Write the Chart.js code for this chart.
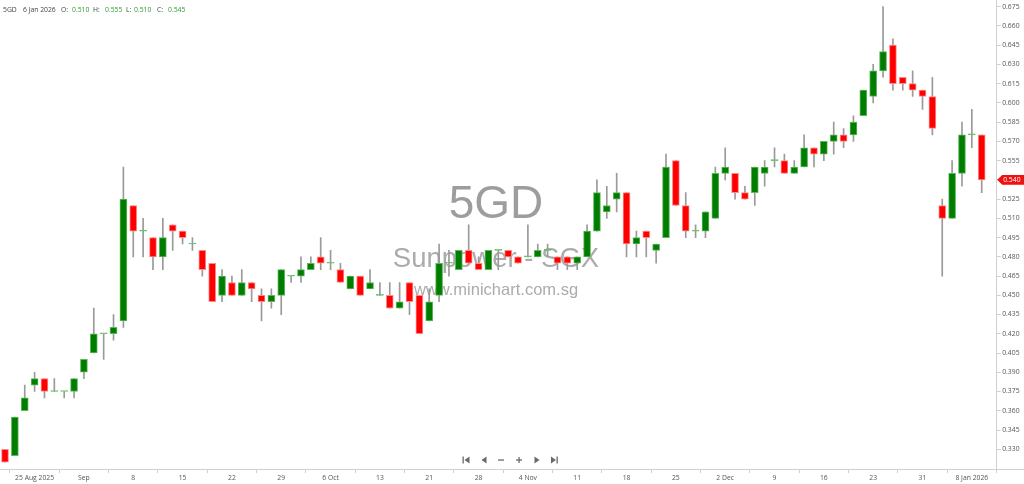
<!DOCTYPE html>
<html>
<head>
<meta charset="utf-8">
<script src="https://cdn.jsdelivr.net/npm/chart.js@4/dist/chart.umd.min.js"></script>
<style>
  html, body { margin: 0; padding: 0; background: #fff; }
  #wrap { position: relative; width: 1024px; height: 484px; }
</style>
</head>
<body>
<div id="wrap"><canvas id="c"></canvas></div>
<script>
// ---- DATA ----
const symbol = '5GD';
const company = 'Sunpower - SGX';
const site = 'www.minichart.com.sg';

const dates = [
  '2025-08-20','2025-08-21','2025-08-22','2025-08-25','2025-08-26','2025-08-27','2025-08-28','2025-08-29',
  '2025-09-01','2025-09-02','2025-09-03','2025-09-04','2025-09-05',
  '2025-09-08','2025-09-09','2025-09-10','2025-09-11','2025-09-12',
  '2025-09-15','2025-09-16','2025-09-17','2025-09-18','2025-09-19',
  '2025-09-22','2025-09-23','2025-09-24','2025-09-25','2025-09-26',
  '2025-09-29','2025-09-30','2025-10-01','2025-10-02','2025-10-03',
  '2025-10-06','2025-10-07','2025-10-08','2025-10-09','2025-10-10',
  '2025-10-13','2025-10-14','2025-10-15','2025-10-16','2025-10-17',
  '2025-10-21','2025-10-22','2025-10-23','2025-10-24',
  '2025-10-27','2025-10-28','2025-10-29','2025-10-30','2025-10-31',
  '2025-11-03','2025-11-04','2025-11-05','2025-11-06','2025-11-07',
  '2025-11-10','2025-11-11','2025-11-12','2025-11-13','2025-11-14',
  '2025-11-17','2025-11-18','2025-11-19','2025-11-20','2025-11-21',
  '2025-11-24','2025-11-25','2025-11-26','2025-11-27','2025-11-28',
  '2025-12-01','2025-12-02','2025-12-03','2025-12-04','2025-12-05',
  '2025-12-08','2025-12-09','2025-12-10','2025-12-11','2025-12-12',
  '2025-12-15','2025-12-16','2025-12-17','2025-12-18','2025-12-19',
  '2025-12-22','2025-12-23','2025-12-24','2025-12-26',
  '2025-12-29','2025-12-30','2025-12-31',
  '2026-01-02','2026-01-05','2026-01-06','2026-01-07','2026-01-08','2026-01-09'
];

const open = [
  0.330,0.325,0.360,0.380,0.385,0.375,0.375,0.375,0.390,0.405,
  0.420,0.420,0.430,0.520,0.500,0.495,0.480,0.505,0.500,0.490,
  0.485,0.475,0.450,0.460,0.450,0.460,0.450,0.445,0.450,0.465,
  0.465,0.470,0.480,0.475,0.470,0.455,0.465,0.455,0.450,0.450,
  0.440,0.460,0.450,0.430,0.450,0.475,0.470,0.485,0.475,0.470,
  0.485,0.485,0.480,0.480,0.480,0.485,0.480,0.480,0.475,0.480,
  0.500,0.515,0.525,0.530,0.490,0.500,0.485,0.495,0.555,0.520,
  0.500,0.500,0.510,0.545,0.545,0.530,0.530,0.545,0.555,0.555,
  0.545,0.550,0.565,0.560,0.570,0.575,0.575,0.590,0.605,0.625,
  0.645,0.620,0.615,0.610,0.605,0.520,0.510,0.545,0.575,0.575
];
const high = [
  0.330,0.355,0.380,0.390,0.385,0.385,0.375,0.385,0.400,0.440,
  0.420,0.435,0.550,0.520,0.510,0.495,0.510,0.505,0.500,0.495,
  0.485,0.475,0.470,0.465,0.470,0.460,0.455,0.455,0.470,0.465,
  0.480,0.480,0.495,0.485,0.475,0.465,0.465,0.470,0.460,0.460,
  0.460,0.460,0.450,0.455,0.490,0.485,0.485,0.505,0.480,0.485,
  0.485,0.485,0.480,0.505,0.490,0.490,0.480,0.480,0.480,0.505,
  0.540,0.535,0.545,0.530,0.500,0.500,0.490,0.560,0.555,0.530,
  0.505,0.515,0.550,0.565,0.545,0.535,0.550,0.555,0.565,0.560,
  0.555,0.575,0.565,0.570,0.585,0.580,0.590,0.610,0.630,0.675,
  0.650,0.620,0.625,0.610,0.620,0.525,0.555,0.585,0.595,0.575
];
const low = [
  0.320,0.325,0.360,0.375,0.370,0.375,0.370,0.370,0.385,0.405,
  0.400,0.415,0.425,0.480,0.480,0.470,0.470,0.485,0.490,0.485,
  0.465,0.445,0.445,0.450,0.450,0.445,0.430,0.440,0.435,0.460,
  0.460,0.470,0.470,0.470,0.460,0.455,0.450,0.455,0.450,0.440,
  0.440,0.435,0.420,0.430,0.445,0.465,0.470,0.475,0.470,0.470,
  0.470,0.480,0.475,0.480,0.480,0.480,0.470,0.470,0.470,0.480,
  0.500,0.510,0.515,0.480,0.480,0.480,0.475,0.495,0.520,0.495,
  0.495,0.495,0.510,0.540,0.525,0.525,0.520,0.535,0.550,0.545,
  0.545,0.550,0.550,0.555,0.560,0.565,0.570,0.590,0.600,0.620,
  0.610,0.610,0.605,0.595,0.575,0.465,0.510,0.535,0.565,0.530
];
const close = [
  0.320,0.355,0.370,0.385,0.375,0.375,0.375,0.385,0.400,0.420,
  0.420,0.425,0.525,0.500,0.500,0.480,0.495,0.500,0.495,0.490,
  0.470,0.445,0.465,0.450,0.460,0.455,0.445,0.450,0.470,0.465,
  0.470,0.475,0.475,0.475,0.460,0.465,0.450,0.460,0.450,0.440,
  0.445,0.445,0.420,0.445,0.475,0.475,0.485,0.475,0.470,0.485,
  0.485,0.480,0.475,0.480,0.485,0.485,0.475,0.475,0.480,0.500,
  0.530,0.520,0.530,0.490,0.495,0.495,0.490,0.550,0.520,0.500,
  0.500,0.515,0.545,0.550,0.530,0.525,0.550,0.550,0.555,0.545,
  0.550,0.565,0.560,0.570,0.575,0.570,0.585,0.610,0.625,0.640,
  0.615,0.615,0.610,0.605,0.580,0.510,0.545,0.575,0.575,0.540
];

const tickDates = ['2025-08-25','2025-09-01','2025-09-08','2025-09-15','2025-09-22','2025-09-29',
  '2025-10-06','2025-10-13','2025-10-21','2025-10-28','2025-11-04','2025-11-11','2025-11-18',
  '2025-11-25','2025-12-02','2025-12-09','2025-12-16','2025-12-23','2025-12-31','2026-01-08'];
const tickLabels = ['25 Aug 2025','Sep','8','15','22','29','6 Oct','13','21','28','4 Nov','11','18',
  '25','2 Dec','9','16','23','31','8 Jan 2026'];
const yTicks = [0.330,0.345,0.360,0.375,0.390,0.405,0.420,0.435,0.450,0.465,0.480,0.495,
  0.510,0.525,0.540,0.555,0.570,0.585,0.600,0.615,0.630,0.645,0.660,0.675];

const headerDate = '2026-01-06';
const headerLabel = '6 Jan 2026';

// ---- STYLE ----
const UP = '#007d00', UP_EDGE = '#5cb85c';
const DN = '#ff0000', DN_EDGE = '#ff8a8a';
const DOJI = '#5fbf5f';
const WICK = '#9a9a9a';
const FONT = "'Open Sans', 'Liberation Sans', sans-serif";
const AXIS = '#d0d0d0';
const TXT = '#555';

const tickIdx = tickDates.map(d => dates.indexOf(d));

const wickData = dates.map((d, i) => ({ x: i, y: [low[i], high[i]] }));
const bodyData = dates.map((d, i) => ({ x: i, y: [open[i], close[i]] }));
const bodyFill = dates.map((d, i) => close[i] > open[i] ? UP : (close[i] < open[i] ? DN : DOJI));
const bodyEdge = dates.map((d, i) => close[i] > open[i] ? UP_EDGE : (close[i] < open[i] ? DN_EDGE : DOJI));

const overlay = {
  id: 'overlay',
  beforeDatasetsDraw(chart) {
    const ctx = chart.ctx;
    const ca = chart.chartArea;
    const cx = 496;
    ctx.save();
    ctx.textAlign = 'center';
    ctx.textBaseline = 'alphabetic';
    ctx.fillStyle = 'rgba(140,140,140,0.85)';
    ctx.font = "46px 'Liberation Sans', Arial, sans-serif";
    ctx.fillText(symbol, cx, 218);
    ctx.fillStyle = 'rgba(150,150,150,0.8)';
    ctx.font = "27.5px 'Liberation Sans', Arial, sans-serif";
    ctx.fillText(company, cx, 267);
    ctx.fillStyle = 'rgba(150,150,150,0.8)';
    ctx.font = "16.5px 'Liberation Sans', Arial, sans-serif";
    ctx.fillText(site, cx, 295);
    ctx.restore();
  },
  afterDraw(chart) {
    const ctx = chart.ctx;
    const ca = chart.chartArea;
    const ys = chart.scales.y;
    ctx.save();
    // extend bottom axis line to the right edge
    ctx.strokeStyle = AXIS;
    ctx.lineWidth = 1;
    ctx.beginPath();
    ctx.moveTo(ca.right, Math.round(ca.bottom) + 0.5);
    ctx.lineTo(chart.width, Math.round(ca.bottom) + 0.5);
    ctx.stroke();

    // header
    const hi = dates.indexOf(headerDate);
    ctx.font = "6.8px " + FONT;
    ctx.textBaseline = 'middle';
    ctx.textAlign = 'left';
    const hy = 10.5;
    const put = (t, x, col) => { ctx.fillStyle = col; ctx.fillText(t, x, hy); };
    const G = '#2e9e2e';
    put(symbol, 3, '#444');
    put(headerLabel, 23, '#444');
    put('O:', 61, '#444'); put(open[hi].toFixed(3), 72, G);
    put('H:', 93, '#444'); put(high[hi].toFixed(3), 105, G);
    put('L:', 126, '#444'); put(low[hi].toFixed(3), 134, G);
    put('C:', 157, '#444'); put(close[hi].toFixed(3), 168, G);

    // last price tag
    const last = close[close.length - 1];
    const py = ys.getPixelForValue(last);
    const x0 = ca.right + 0.5;
    ctx.fillStyle = '#f01010';
    ctx.beginPath();
    ctx.moveTo(x0, py);
    ctx.lineTo(x0 + 5, py - 4.8);
    ctx.lineTo(chart.width, py - 4.8);
    ctx.lineTo(chart.width, py + 4.8);
    ctx.lineTo(x0 + 5, py + 4.8);
    ctx.closePath();
    ctx.fill();
    ctx.fillStyle = '#fff';
    ctx.font = "6.8px " + FONT;
    ctx.fillText(last.toFixed(3), x0 + 6, py + 0.3);

    // navigation icons
    ctx.fillStyle = '#6a6a6a';
    ctx.strokeStyle = '#6a6a6a';
    const ny = 460;
    // |<
    ctx.fillRect(462.5, ny - 3.5, 1.3, 7);
    ctx.beginPath(); ctx.moveTo(464.5, ny); ctx.lineTo(469.5, ny - 3.5); ctx.lineTo(469.5, ny + 3.5); ctx.closePath(); ctx.fill();
    // <
    ctx.beginPath(); ctx.moveTo(481.5, ny); ctx.lineTo(486.5, ny - 3.5); ctx.lineTo(486.5, ny + 3.5); ctx.closePath(); ctx.fill();
    // -
    ctx.fillRect(498, ny - 0.6, 6, 1.3);
    // +
    ctx.fillRect(516, ny - 0.6, 6, 1.3);
    ctx.fillRect(518.4, ny - 3, 1.3, 6);
    // >
    ctx.beginPath(); ctx.moveTo(539.5, ny); ctx.lineTo(534.5, ny - 3.5); ctx.lineTo(534.5, ny + 3.5); ctx.closePath(); ctx.fill();
    // >|
    ctx.beginPath(); ctx.moveTo(556, ny); ctx.lineTo(551, ny - 3.5); ctx.lineTo(551, ny + 3.5); ctx.closePath(); ctx.fill();
    ctx.fillRect(556.5, ny - 3.5, 1.3, 7);
    ctx.restore();
  }
};

new Chart(document.getElementById('c'), {
  type: 'bar',
  data: {
    datasets: [
      {
        label: 'wick',
        data: wickData,
        backgroundColor: WICK,
        borderWidth: 0,
        barThickness: 1,
        grouped: false,
        order: 2
      },
      {
        label: 'body',
        data: bodyData,
        backgroundColor: bodyFill,
        borderColor: bodyEdge,
        borderWidth: 1,
        borderSkipped: false,
        barThickness: 7,
        minBarLength: 1,
        grouped: false,
        order: 1
      }
    ]
  },
  options: {
    responsive: true,
    maintainAspectRatio: false,
    animation: false,
    layout: { padding: 0 },
    plugins: { legend: { display: false }, tooltip: { enabled: false } },
    scales: {
      x: {
        type: 'linear',
        min: -0.507,
        max: 100.52,
        offset: false,
        grid: { display: true, drawOnChartArea: false, drawTicks: true, tickLength: 4, color: AXIS },
        border: { display: true, color: AXIS },
        ticks: {
          autoSkip: false,
          maxRotation: 0,
          padding: 1,
          color: TXT,
          font: { family: FONT, size: 6.8 },
          callback: (v) => { const k = tickIdx.indexOf(v); return k >= 0 ? tickLabels[k] : ''; }
        },
        afterBuildTicks: (s) => { s.ticks = tickIdx.map(v => ({ value: v })); },
        afterFit: (s) => { s.height = 15; s.paddingLeft = 0; s.paddingRight = 0; }
      },
      y: {
        type: 'linear',
        position: 'right',
        min: 0.3146,
        max: 0.6802,
        grid: { display: true, drawOnChartArea: false, drawTicks: true, tickLength: 4, color: AXIS },
        border: { display: true, color: AXIS },
        ticks: {
          padding: 1.5,
          color: TXT,
          font: { family: FONT, size: 6.8 },
          callback: (v) => Number(v).toFixed(3)
        },
        afterBuildTicks: (s) => { s.ticks = yTicks.map(v => ({ value: v })); },
        afterFit: (s) => { s.width = 27.3; s.paddingTop = 0; s.paddingBottom = 0; }
      }
    }
  },
  plugins: [overlay]
});
</script>
</body>
</html>
